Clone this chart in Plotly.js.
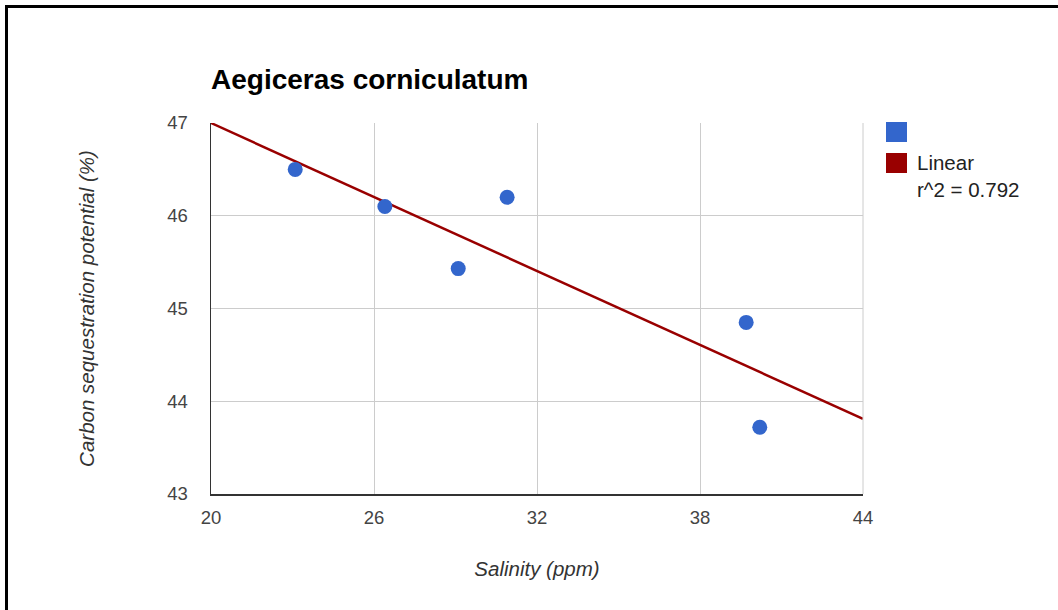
<!DOCTYPE html>
<html>
<head>
<meta charset="utf-8">
<script src="https://cdn.plot.ly/plotly-3.0.1.min.js"></script>
<style>
html,body{margin:0;padding:0;background:#fff;}
#wrap{position:relative;width:1058px;height:610px;}
#chart{width:1058px;height:610px;}
#frame{position:absolute;left:5px;top:5px;right:0;bottom:0;border-left:3px solid #000;border-top:3px solid #000;pointer-events:none;}
</style>
</head>
<body>
<div id="wrap"><div id="chart"></div><div id="frame"></div></div>
<script>
// Data
const salinity = [23.1, 26.4, 29.1, 30.9, 39.7, 40.2];
const carbon = [46.5, 46.1, 45.43, 46.2, 44.85, 43.72];
// Linear trendline (as drawn in the reference)
const trendX = [20, 44];
const trendY = [47.0, 43.81];
const xTicks = [20, 26, 32, 38, 44];
const yTicks = [43, 44, 45, 46, 47];
const legendLabels = ["", "Linear", "r^2 = 0.792"];

const FONT = "Liberation Sans, Arial, sans-serif";
const traces = [
  {x: trendX, y: trendY, type: 'scatter', mode: 'lines',
   line: {color: '#990000', width: 2.5}, hoverinfo: 'skip', name: legendLabels[1]},
  {x: salinity, y: carbon, type: 'scatter', mode: 'markers',
   marker: {color: '#3366cc', size: 15}, name: legendLabels[0]}
];
const layout = {
  width: 1058, height: 610,
  margin: {l: 211, r: 195, t: 123, b: 116},
  paper_bgcolor: '#fff', plot_bgcolor: '#fff',
  showlegend: false,
  font: {family: FONT, color: '#444'},
  title: {text: '<b>Aegiceras corniculatum</b>', font: {family: FONT, size: 28, color: '#000'},
          xref: 'paper', x: 0, xanchor: 'left', yref: 'container', y: 1 - 79/610, yanchor: 'middle'},
  xaxis: {range: [20, 44], tickvals: xTicks, ticktext: xTicks.map(String),
          showgrid: true, gridcolor: '#cccccc', gridwidth: 1,
          zeroline: false, showline: true, linecolor: '#333', linewidth: 1.5,
          ticks: '', ticklabelstandoff: 6, tickfont: {size: 18.5, color: '#444'},
          title: {text: '<i>Salinity (ppm)</i>', font: {size: 20.5, color: '#333'}, standoff: 35},
          automargin: false, mirror: false},
  yaxis: {range: [43, 47], tickvals: yTicks, ticktext: yTicks.map(String),
          showgrid: true, gridcolor: '#cccccc', gridwidth: 1,
          zeroline: false, showline: true, linecolor: '#333', linewidth: 1.5,
          ticks: '', ticklabelstandoff: 18, tickfont: {size: 18.5, color: '#444'},
          title: {text: '<i>Carbon sequestration potential (%)</i>', font: {size: 20.5, color: '#333'}, standoff: 67},
          automargin: false},
  shapes: [
    {type: 'line', xref: 'paper', yref: 'paper', x0: 1, x1: 1, y0: 0, y1: 1, line: {color: '#cccccc', width: 1}},
    {type: 'rect', xref: 'paper', yref: 'paper', x0: 1.0353, x1: 1.0675, y0: 0.9488, y1: 1.0027,
     fillcolor: '#3366cc', line: {width: 0}},
    {type: 'rect', xref: 'paper', yref: 'paper', x0: 1.0353, x1: 1.0675, y0: 0.8652, y1: 0.9191,
     fillcolor: '#990000', line: {width: 0}}
  ],
  annotations: [
    {xref: 'paper', yref: 'paper', x: 1.0798, y: 0.8922, xanchor: 'left', yanchor: 'middle',
     text: legendLabels[1], showarrow: false, font: {family: FONT, size: 20.5, color: '#222'}},
    {xref: 'paper', yref: 'paper', x: 1.0798, y: 0.8221, xanchor: 'left', yanchor: 'middle',
     text: legendLabels[2], showarrow: false, font: {family: FONT, size: 20.5, color: '#222'}}
  ]
};
Plotly.newPlot('chart', traces, layout, {staticPlot: true, displayModeBar: false});
</script>
</body>
</html>
